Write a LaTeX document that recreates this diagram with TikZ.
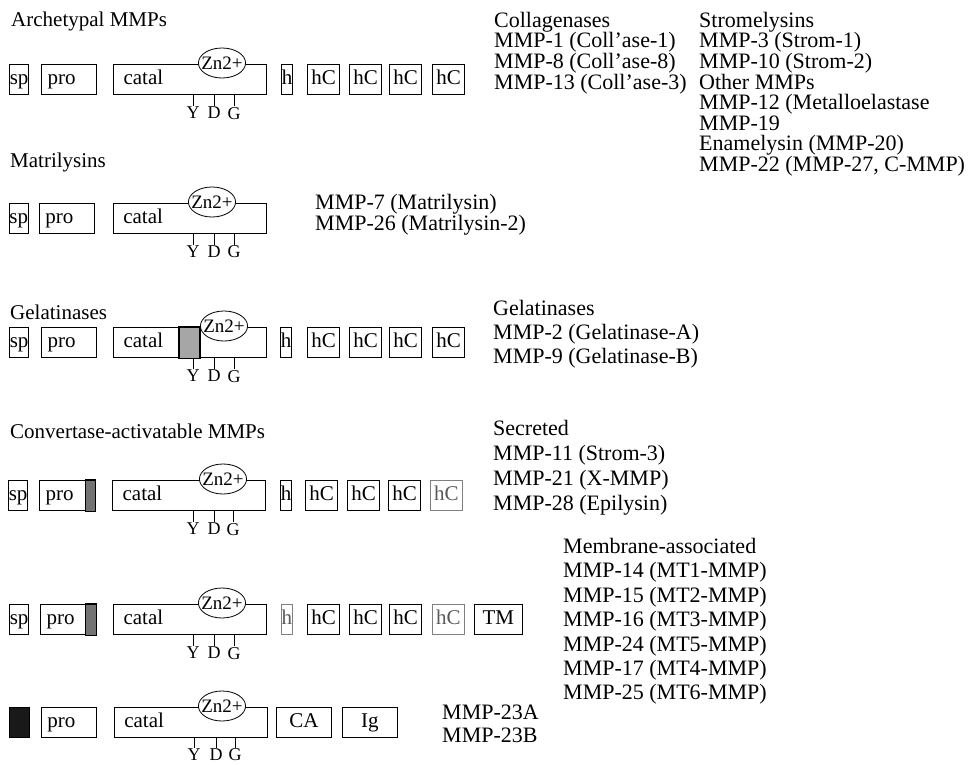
\documentclass[tikz,border=0pt]{standalone}
\usepackage{fontspec}
\setmainfont{Liberation Serif}
\usetikzlibrary{shapes.geometric}

\begin{document}
\begin{tikzpicture}[x=1pt,y=-1pt,
    dom/.style={draw, line width=1.2pt, inner sep=0pt, minimum height=30pt,
        text height=15pt, text depth=5pt, anchor=north west,
        font=\fontsize{21}{21}\selectfont},
    lite/.style={line width=0.7pt},
    faint/.style={draw=black!50, text=black!65, line width=0.7pt},
    catbox/.style={text width=133pt, inner xsep=10pt, align=left},
    probox/.style={text width=43pt, inner xsep=6pt, align=left},
    hcbox/.style={minimum width=32pt},
    zn/.style={ellipse, draw, fill=white, line width=0.8pt, inner xsep=-4pt, inner ysep=0pt,
        minimum width=47pt, minimum height=30pt, text height=13pt, text depth=0pt,
        font=\fontsize{19}{19}\selectfont},
    tick/.style={line width=0.8pt},
    res/.style={anchor=north, inner sep=0.5pt, font=\fontsize{18}{18}\selectfont},
    seg/.style={draw, line width=1.2pt},
    lst/.style={anchor=base west, inner sep=0pt, font=\fontsize{22}{22}\selectfont},
    ttl/.style={anchor=base west, inner sep=0pt, font=\fontsize{21}{21}\selectfont}]

    \useasboundingbox (0,0) rectangle (974,765);

    % titles on the left
    \node[ttl] (t1) at (11,27) {Archetypal MMPs};
    \node[ttl] (t2) at (10,167) {Matrilysins};
    \node[ttl] (t3) at (10,319) {Gelatinases};
    \node[ttl] (t4) at (10,438) {Convertase-activatable MMPs};

    % === row 1: archetypal ===
    \node[dom, minimum width=19pt] (sp1) at (9,64) {sp};
    \node[dom, probox] (pro1) at (41,64) {pro};
    \node[dom, catbox] (cat1) at (113,64) {catal};
    \node[dom, minimum width=11pt] (h1) at (281,64) {h};
    \foreach \x [count=\i] in {307,349,389,432}
        \node[dom, hcbox] (hca\i) at (\x,64) {hC};
    \node[zn] (zn1) at (222,63) {Zn2+};
    \foreach \dx/\r in {80/Y,101/D,121/G}
        \draw[tick] ([xshift=\dx pt]cat1.south west) -- ++(0,11) node[res] (ra\r) {\r};

    % === row 2: matrilysins (thin lines) ===
    \node[dom, lite, minimum width=18pt] (sp2) at (9,203) {sp};
    \node[dom, lite, probox] (pro2) at (39,203) {pro};
    \node[dom, lite, catbox] (cat2) at (113,203) {catal};
    \node[zn] (zn2) at (212,202) {Zn2+};
    \foreach \dx/\r in {80/Y,101/D,121/G}
        \draw[tick] ([xshift=\dx pt]cat2.south west) -- ++(0,11) node[res] (rb\r) {\r};

    % === row 3: gelatinases ===
    \node[dom, minimum width=19pt] (sp3) at (9,327) {sp};
    \node[dom, probox] (pro3) at (41,327) {pro};
    \node[dom, catbox] (cat3) at (113,327) {catal};
    \filldraw[seg, fill=black!35] ([xshift=66pt]cat3.north west) rectangle ([xshift=87pt]cat3.south west);
    \node[dom, minimum width=11pt] (h3) at (280,327) {h};
    \foreach \x [count=\i] in {307,349,389,432}
        \node[dom, hcbox] (hcc\i) at (\x,327) {hC};
    \node[zn] (zn3) at (224,326) {Zn2+};
    \foreach \dx/\r in {80/Y,101/D,121/G}
        \draw[tick] ([xshift=\dx pt]cat3.south west) -- ++(0,11) node[res] (rc\r) {\r};

    % === row 4: convertase-activatable, secreted ===
    \node[dom, minimum width=19pt] (sp4) at (8,480) {sp};
    \node[dom, probox] (pro4) at (39,480) {pro};
    \filldraw[seg, fill=black!55] ([xshift=-10pt]pro4.north east) rectangle (pro4.south east);
    \node[dom, catbox] (cat4) at (112,480) {catal};
    \node[dom, minimum width=11pt] (h4) at (280,480) {h};
    \foreach \x [count=\i] in {305,347,388}
        \node[dom, hcbox] (hcd\i) at (\x,480) {hC};
    \node[dom, faint, hcbox] (hcd4) at (430,480) {hC};
    \node[zn] (zn4) at (223,479) {Zn2+};
    \foreach \dx/\r in {81/Y,102/D,121/G}
        \draw[tick] ([xshift=\dx pt]cat4.south west) -- ++(0,11) node[res] (rd\r) {\r};

    % === row 5: membrane-associated ===
    \node[dom, minimum width=19pt] (sp5) at (9,604) {sp};
    \node[dom, probox] (pro5) at (40,604) {pro};
    \filldraw[seg, fill=black!55] ([xshift=-11pt]pro5.north east) rectangle (pro5.south east);
    \node[dom, catbox] (cat5) at (113,604) {catal};
    \node[dom, faint, minimum width=11pt] (h5) at (281,604) {h};
    \foreach \x [count=\i] in {307,349,389}
        \node[dom, hcbox] (hce\i) at (\x,604) {hC};
    \node[dom, faint, hcbox] (hce4) at (432,604) {hC};
    \node[dom, lite, minimum width=48pt] (tm5) at (474,604) {TM};
    \node[zn] (zn5) at (222,603) {Zn2+};
    \foreach \dx/\r in {80/Y,101/D,121/G}
        \draw[tick] ([xshift=\dx pt]cat5.south west) -- ++(0,11) node[res] (re\r) {\r};

    % === row 6: MMP-23 ===
    \node[dom, lite, fill=black!90, minimum width=20pt] (sig6) at (9,707) {};
    \node[dom, lite, probox] (pro6) at (41,707) {pro};
    \node[dom, lite, catbox] (cat6) at (114,707) {catal};
    \node[dom, lite, minimum width=55pt] (ca6) at (276,707) {CA};
    \node[dom, lite, minimum width=55pt] (ig6) at (342,707) {Ig};
    \node[zn] (zn6) at (222,706) {Zn2+};
    \foreach \dx/\r in {80/Y,102/D,121/G}
        \draw[tick] ([xshift=\dx pt]cat6.south west) -- ++(0,10) node[res] (rf\r) {\r};

    % lists of members
    \foreach \t [count=\i] in {Collagenases, MMP-1 (Coll'ase-1), MMP-8 (Coll'ase-8), MMP-13 (Coll'ase-3)}
        \node[lst] (col\i) at (494,{27.3+20.6*(\i-1)}) {\t};
    \foreach \t [count=\i] in {Stromelysins, MMP-3 (Strom-1), MMP-10 (Strom-2), Other MMPs,
            MMP-12 (Metalloelastase, MMP-19, Enamelysin (MMP-20), {MMP-22 (MMP-27, C-MMP)}}
        \node[lst] (str\i) at (699,{27.3+20.6*(\i-1)}) {\t};
    \foreach \t [count=\i] in {MMP-7 (Matrilysin), MMP-26 (Matrilysin-2)}
        \node[lst] (mat\i) at (315,{209.5+21*(\i-1)}) {\t};
    \foreach \t [count=\i] in {Gelatinases, MMP-2 (Gelatinase-A), MMP-9 (Gelatinase-B)}
        \node[lst] (gel\i) at (493,{315+24*(\i-1)}) {\t};
    \foreach \t [count=\i] in {Secreted, MMP-11 (Strom-3), MMP-21 (X-MMP), MMP-28 (Epilysin)}
        \node[lst] (sec\i) at (493,{435.5+25*(\i-1)}) {\t};
    \foreach \t [count=\i] in {Membrane-associated, MMP-14 (MT1-MMP), MMP-15 (MT2-MMP), MMP-16 (MT3-MMP),
            MMP-24 (MT5-MMP), MMP-17 (MT4-MMP), MMP-25 (MT6-MMP)}
        \node[lst] (mem\i) at (563,{553.5+24.4*(\i-1)}) {\t};
    \foreach \t [count=\i] in {MMP-23A, MMP-23B}
        \node[lst] (mtt\i) at (442,{719.5+23*(\i-1)}) {\t};
\end{tikzpicture}
\end{document}
